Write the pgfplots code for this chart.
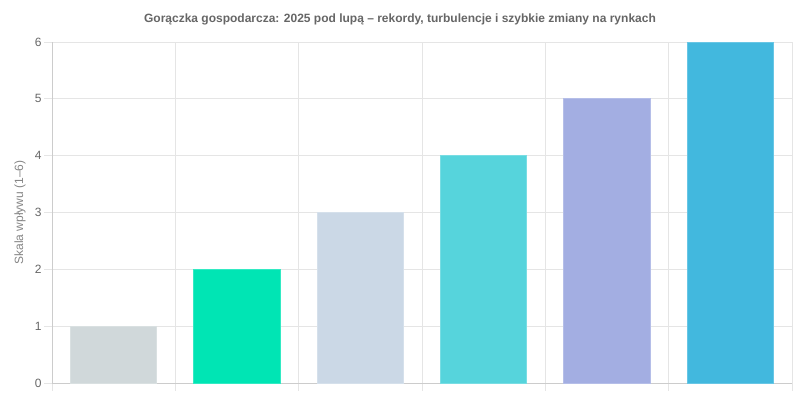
\documentclass[border=0pt]{standalone}
\usepackage{fontspec}
\setmainfont{Liberation Sans}
\usepackage{pgfplots}
\pgfplotsset{compat=1.18}
\definecolor{txt}{HTML}{666666}
\definecolor{gridc}{HTML}{E5E5E5}
\definecolor{axc}{HTML}{CCCCCC}
\definecolor{cA}{HTML}{D0D8DA}
\definecolor{cB}{HTML}{00E5B4}
\definecolor{cC}{HTML}{CBD8E6}
\definecolor{cD}{HTML}{56D4DC}
\definecolor{cE}{HTML}{A3AEE2}
\definecolor{cF}{HTML}{42B8DE}
\begin{document}
\begin{tikzpicture}
\begin{axis}[
  scale only axis,
  width=740pt, height=341pt,
  xmin=-0.5, xmax=5.5, ymin=0, ymax=6,
  ybar, bar width=0.7, bar shift=0pt,
  xtick={-0.5,0.5,...,5.5}, xticklabels={},
  ytick={0,1,...,6},
  xmajorgrids, ymajorgrids,
  grid style={gridc, line width=0.8pt},
  axis lines=left, axis line style={axc, line width=0.8pt, -},
  tick align=outside, major tick length=8pt,
  tick style={gridc, line width=0.8pt},
  yticklabel style={font=\fontsize{12}{14}\selectfont, color=txt, xshift=1pt},
  /pgf/number format/assume math mode=true,
  title={\textbf{Gorączka gospodarcza: 2025 pod lupą – rekordy, turbulencje i szybkie zmiany na rynkach}},
  title style={font=\fontsize{12}{14}\selectfont, color=txt, at={(axis description cs:0.5,1)}, anchor=base, yshift=14pt, xshift=-22pt},
  ylabel={Skala wpływu (1–6)},
  ylabel style={font=\fontsize{12}{14}\selectfont, color=txt!80, at={(axis description cs:-0.0432,0.5)}, anchor=center},
  clip=false,
]
\addplot[fill=cA, draw=cA!80!white, line width=0.8pt] coordinates {(0,1)};
\addplot[fill=cB, draw=cB!80!white, line width=0.8pt] coordinates {(1,2)};
\addplot[fill=cC, draw=cC!80!white, line width=0.8pt] coordinates {(2,3)};
\addplot[fill=cD, draw=cD!80!white, line width=0.8pt] coordinates {(3,4)};
\addplot[fill=cE, draw=cE!80!white, line width=0.8pt] coordinates {(4,5)};
\addplot[fill=cF, draw=cF!80!white, line width=0.8pt] coordinates {(5,6)};
\coordinate (sw) at (rel axis cs:0,0);
\end{axis}
\pgfresetboundingbox
\path[use as bounding box] ([shift={(-52pt,-17pt)}]sw) rectangle ([shift={(748pt,383pt)}]sw);
\end{tikzpicture}
\end{document}
